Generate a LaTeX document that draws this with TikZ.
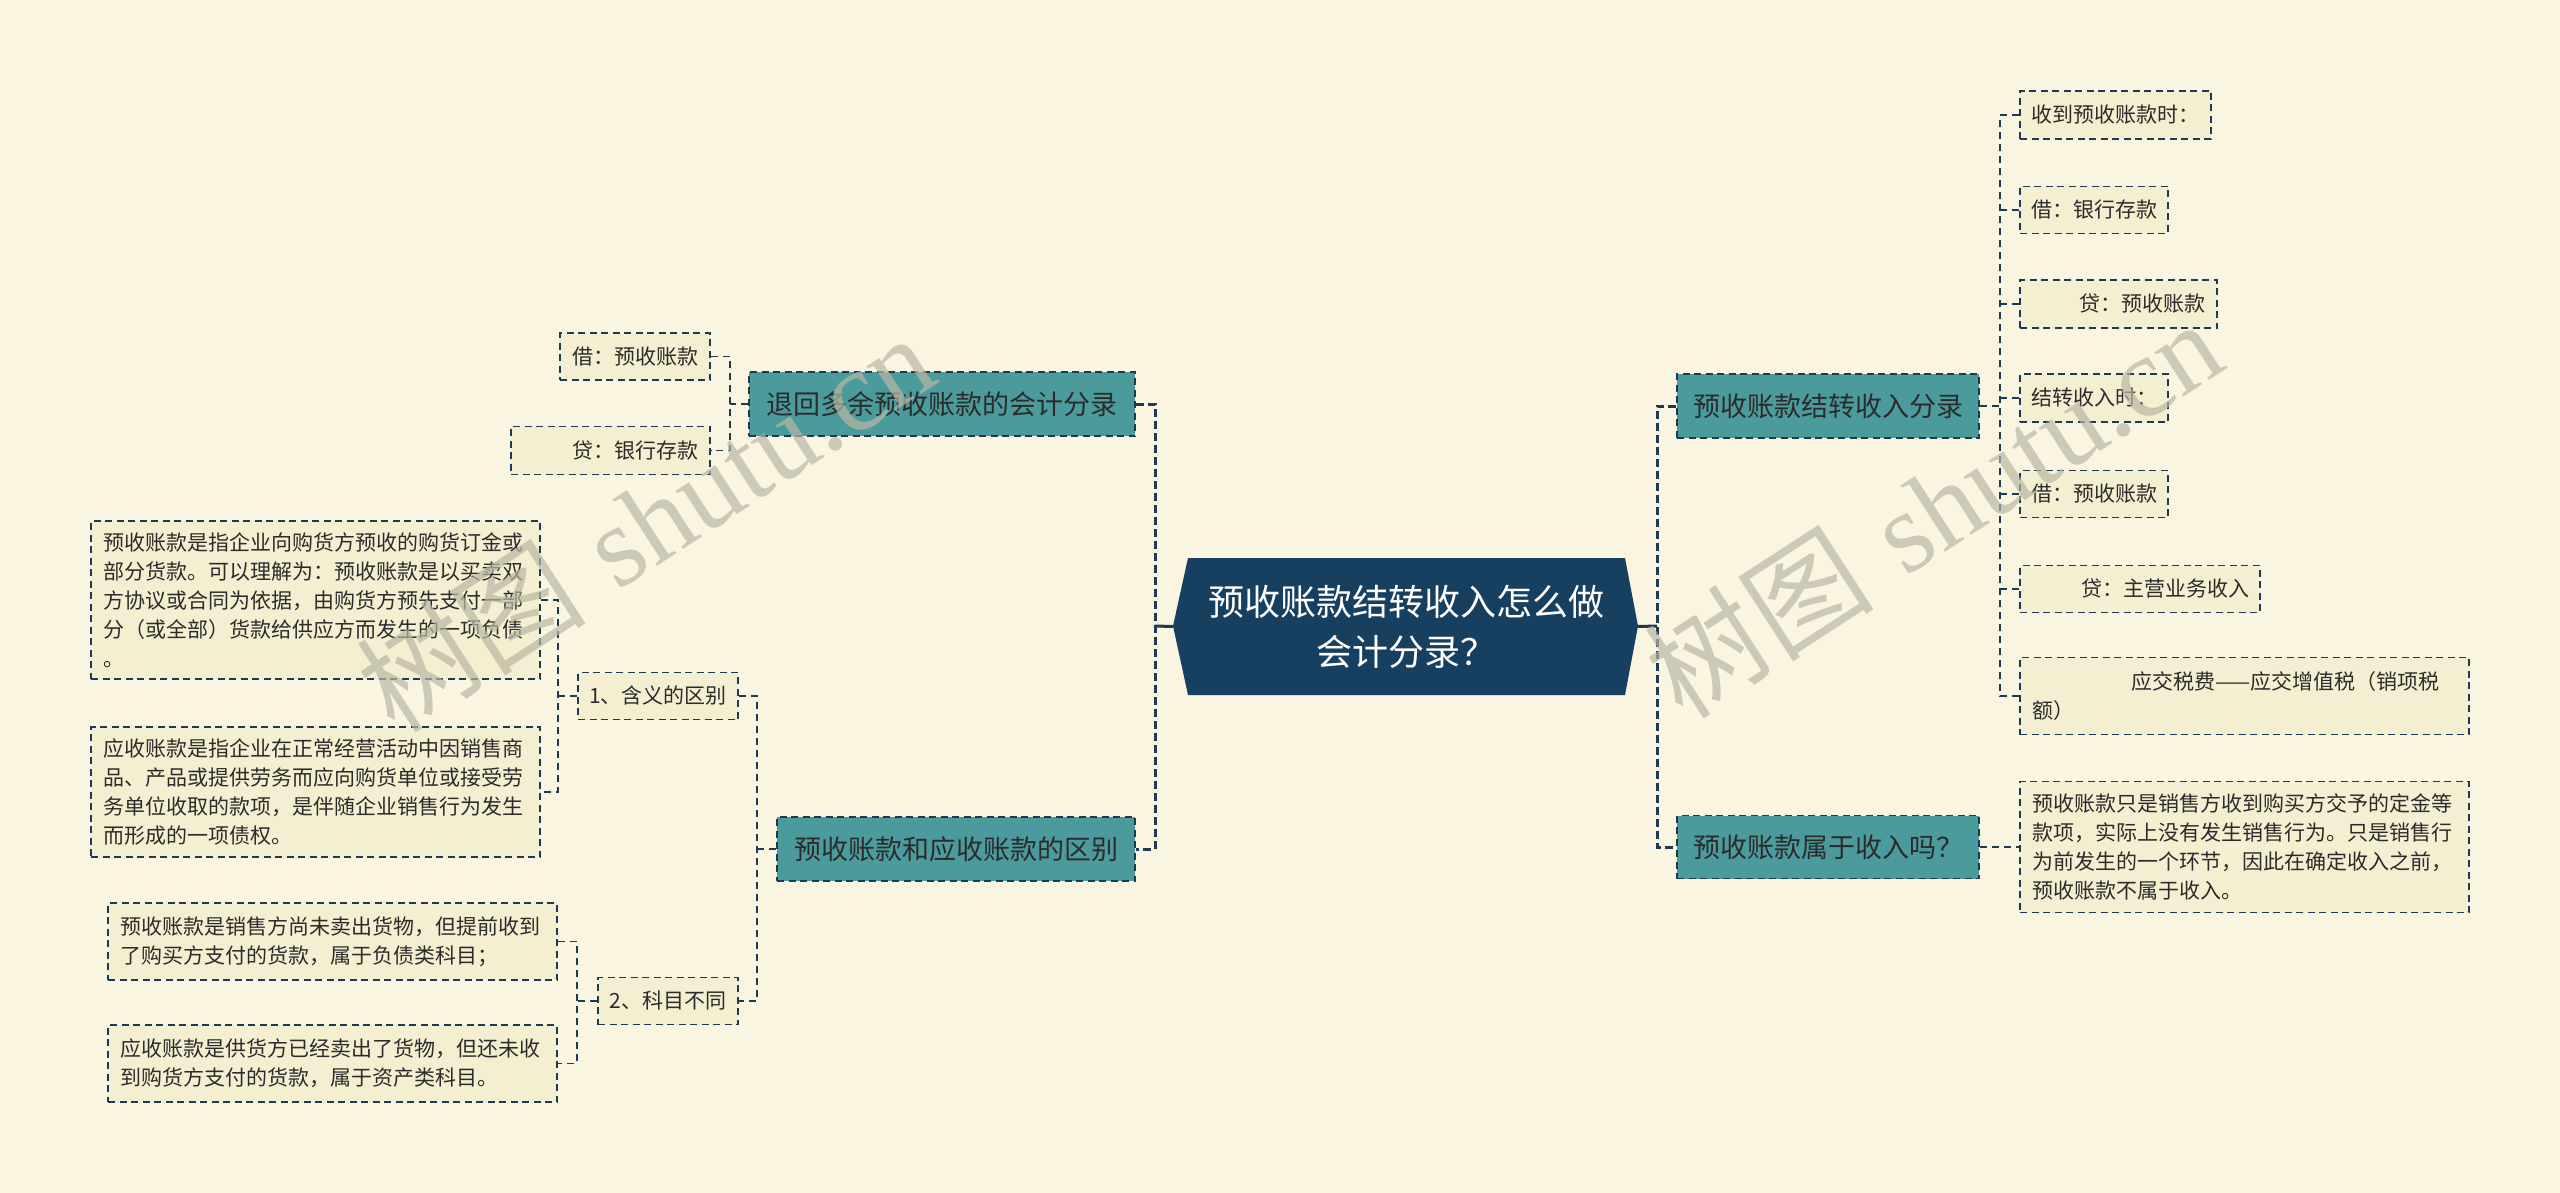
\documentclass[tikz,border=0pt]{standalone}
\usepackage{fontspec}
\newfontfamily\cjk{Noto Sans CJK SC}
\newfontfamily\wmserif{Liberation Serif}
\usetikzlibrary{calc}
\definecolor{bgc}{HTML}{FAF5E1}
\definecolor{leaff}{HTML}{F5EFD1}
\definecolor{navy}{HTML}{1E3A52}
\definecolor{teal1}{HTML}{4B9B9D}
\definecolor{ctrc}{HTML}{173F5F}
\definecolor{txt}{HTML}{2B2B2B}
\definecolor{wm}{HTML}{B9B7A4}
\begin{document}
\begin{tikzpicture}[x=1pt,y=-1pt,
  leaf/.style={draw=navy, fill=leaff, line width=1.6pt, dash pattern=on 7pt off 4.5pt,
    font=\cjk\fontsize{21pt}{29pt}\selectfont, text=txt, inner sep=0pt, align=center},
  para/.style={leaf, align=left, inner xsep=12.5pt, inner ysep=0pt, text width=424pt},
  branch/.style={draw=navy, fill=teal1, line width=1.6pt, dash pattern=on 7pt off 4.5pt,
    font=\cjk\fontsize{27pt}{32pt}\selectfont, text=txt, inner sep=0pt},
  dl/.style={draw=navy, line width=1.6pt, dash pattern=on 7pt off 5pt},
  dlthick/.style={draw=navy, line width=3pt, dash pattern=on 8pt off 4pt},
  sl/.style={draw=navy, line width=3pt},
  wmark/.style={text=wm, opacity=0.7, rotate=33, inner sep=0pt}]

\fill[bgc] (0,0) rectangle (2560,1193);
\useasboundingbox (0,0) rectangle (2560,1193);

% spine coordinates
\coordinate (sL) at (1155,626);
\coordinate (sR) at (1657,626);
\coordinate (s1) at (730,0);
\coordinate (s2) at (757,0);
\coordinate (s3) at (558,0);
\coordinate (s4) at (577,0);
\coordinate (s5) at (2000,0);

% center
\fill[ctrc] (1173,626) -- (1188,558) -- (1625,558) -- (1638,626) -- (1625,695) -- (1188,695) -- cycle;
\node[font=\cjk\fontsize{36pt}{50pt}\selectfont, text=white, align=center,
  minimum width=437pt, minimum height=137pt, inner sep=0pt] (ctr) at (1406.5,626.5)
  {预收账款结转收入怎么做\\会计分录？};
\coordinate (ctrL) at ([xshift=-15pt]ctr.west);
\coordinate (ctrR) at ([xshift=13pt]ctr.east);

% branches
\node[branch, minimum width=386pt, minimum height=64pt] (b1) at (942,404) {退回多余预收账款的会计分录};
\node[branch, minimum width=358pt, minimum height=64pt] (b2) at (956,849) {预收账款和应收账款的区别};
\node[branch, minimum width=302pt, minimum height=64pt] (b3) at (1828,406) {预收账款结转收入分录};
\node[branch, minimum width=302pt, minimum height=63pt] (b4) at (1828,847) {预收账款属于收入吗？};

% left leaves
\node[leaf, minimum width=150pt, minimum height=47pt] (l1) at (635,356.5) {借：预收账款};
\node[leaf, minimum width=199pt, minimum height=48pt] (l2) at (610.5,450.5) {\hspace*{50pt}贷：银行存款};
\node[leaf, minimum width=160pt, minimum height=47pt] (m1) at (658,696) {1、含义的区别};
\node[leaf, minimum width=140pt, minimum height=47pt] (m2) at (668,1001) {2、科目不同};
\node[para, minimum height=158pt] (t1) at (315.5,600) {预收账款是指企业向购货方预收的购货订金或\\部分货款。可以理解为：预收账款是以买卖双\\方协议或合同为依据，由购货方预先支付一部\\分（或全部）货款给供应方而发生的一项负债\\。};
\node[para, minimum height=130pt] (t2) at (315.5,792) {应收账款是指企业在正常经营活动中因销售商\\品、产品或提供劳务而应向购货单位或接受劳\\务单位收取的款项，是伴随企业销售行为发生\\而形成的一项债权。};
\node[para, minimum height=77pt] (t3) at (332.5,941.5) {预收账款是销售方尚未卖出货物，但提前收到\\了购买方支付的货款，属于负债类科目；};
\node[para, minimum height=77pt] (t4) at (332.5,1063.5) {应收账款是供货方已经卖出了货物，但还未收\\到购货方支付的货款，属于资产类科目。};

% right leaves
\node[leaf, minimum width=191pt, minimum height=48pt] (r1) at (2115.5,115) {收到预收账款时：};
\node[leaf, minimum width=148pt, minimum height=47pt] (r2) at (2094,210) {借：银行存款};
\node[leaf, minimum width=197pt, minimum height=48pt] (r3) at (2118.5,304) {\hspace*{48pt}贷：预收账款};
\node[leaf, minimum width=148pt, minimum height=48pt] (r4) at (2094,398) {结转收入时：};
\node[leaf, minimum width=148pt, minimum height=47pt] (r5) at (2094,494) {借：预收账款};
\node[leaf, minimum width=240pt, minimum height=47pt] (r6) at (2140,589) {\hspace*{50pt}贷：主营业务收入};
\node[para, minimum height=77pt] (r7) at (2244.5,696) {\hspace*{99pt}应交税费——应交增值税（销项税\\额）};
\node[para, minimum height=131pt] (r8) at (2244.5,847) {预收账款只是销售方收到购买方交予的定金等\\款项，实际上没有发生销售行为。只是销售行\\为前发生的一个环节，因此在确定收入之前，\\预收账款不属于收入。};

% center connectors
\draw[sl] (ctrL) -- (sL);
\draw[sl] (ctrR) -- (sR);
\draw[dlthick] (b1.east) -- (b1.east -| sL) -- (b2.east -| sL) -- (b2.east);
\draw[dlthick] (b3.west) -- (b3.west -| sR) -- (b4.west -| sR) -- (b4.west);

% branch 1
\draw[dl] (b1.west) -- (b1.west -| s1);
\draw[dl] (l1.east) -- (l1.east -| s1) -- (l2.east -| s1) -- (l2.east);
% branch 2
\draw[dl] (b2.west) -- (b2.west -| s2);
\draw[dl] (m1.east) -- (m1.east -| s2) -- (m2.east -| s2) -- (m2.east);
\draw[dl] (m1.west) -- (m1.west -| s3);
\draw[dl] (t1.east) -- (t1.east -| s3) -- (t2.east -| s3) -- (t2.east);
\draw[dl] (m2.west) -- (m2.west -| s4);
\draw[dl] (t3.east) -- (t3.east -| s4) -- (t4.east -| s4) -- (t4.east);
% branch 3
\draw[dl] (b3.east) -- (b3.east -| s5);
\draw[dl] (r1.west) -- (r1.west -| s5) -- (r7.west -| s5) -- (r7.west);
\foreach \n in {r2,r3,r4,r5,r6} \draw[dl] (\n.west) -- (\n.west -| s5);
% branch 4
\draw[dl] (b4.east) -- (r8.west);

% watermarks
\node[wmark] (wm1) at (645,522) {\fontsize{115pt}{120pt}\selectfont{\cjk 树图} {\wmserif shutu.cn}};
\node[wmark] (wm2) at (1933,508) {\fontsize{115pt}{120pt}\selectfont{\cjk 树图} {\wmserif shutu.cn}};
\end{tikzpicture}
\end{document}
